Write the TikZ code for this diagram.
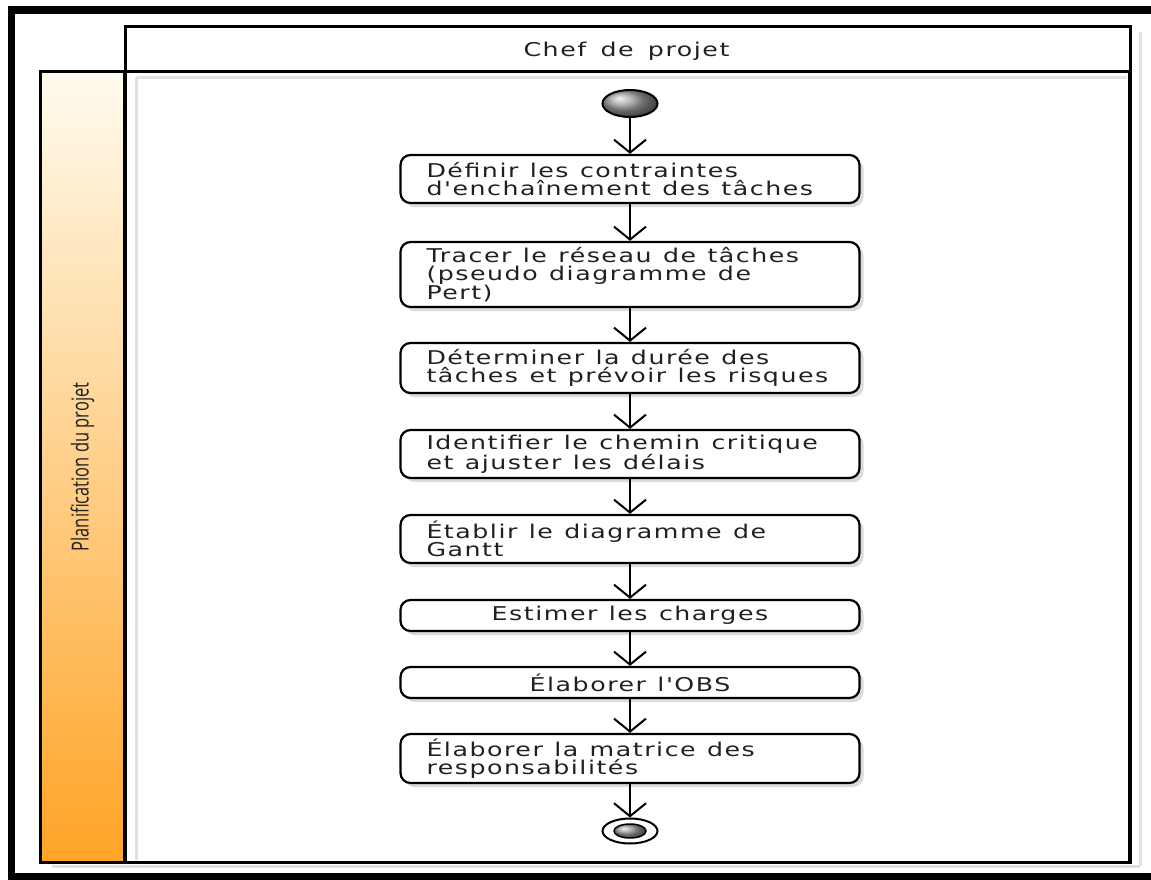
\documentclass[tikz,border=0pt]{standalone}
\usepackage{fontspec}
\usetikzlibrary{arrows.meta,shapes.geometric,shadows}
\newfontfamily\boxfont[FakeStretch=1.33,LetterSpace=8,WordSpace=1.5]{DejaVu Sans}
\newfontfamily\lanefont[FakeStretch=0.7]{Open Sans}
\newcommand\setsp{\spaceskip=0.6em\relax}
\definecolor{txt}{HTML}{202020}
\definecolor{oTop}{RGB}{255,251,238}
\definecolor{oMid}{RGB}{255,218,160}
\definecolor{oBot}{RGB}{255,164,38}
\definecolor{shade}{RGB}{225,225,228}
\tikzset{
  act/.style={draw=black, line width=2.2pt, rounded corners=10pt, fill=white,
    minimum width=459pt, text width=407pt, inner xsep=26pt, inner ysep=0pt,
    align=left, text=txt, font=\boxfont\fontsize{19}{18.5}\selectfont,
    drop shadow={shadow xshift=4pt, shadow yshift=-4pt, fill=black!14, opacity=1}},
  actc/.style={act, align=center},
  flow/.style={draw=black, line width=2pt, -{Straight Barb[length=13pt,width=32pt,line width=2pt]}},
  lane/.style={draw=black, line width=3pt},
  frame/.style={fill=black, draw=none},
  ghost/.style={draw=shade, line width=3pt},
}
\begin{document}
\begin{tikzpicture}[x=1pt,y=-1pt]
\useasboundingbox (0,0) rectangle (1151,880);
\fill[white] (0,0) rectangle (1151,880);
% outer frame
\path[frame] (8,6) rectangle (15,880);
\path[frame] (8,6) rectangle (1151,14);
\path[frame] (8,873) rectangle (1151,880);
% ghost shadow lines
\draw[ghost] (136,78) -- (1127,78);
\draw[ghost] (136,78) -- (136,860);
\draw[ghost] (1140,32) -- (1140,866);
\draw[ghost] (52,866) -- (1140,866);
% orange column
\shade[top color=oTop, middle color=oMid, bottom color=oBot] (40,72) rectangle (125,862);
\draw[lane] (40,72) rectangle (125,862);
% header and lane
\draw[lane] (125,27) rectangle (1130,72);
\draw[lane] (125,72) rectangle (1130,862);
\draw[black, line width=4pt] (125,72) -- (125,862);
\draw[black, line width=4pt] (1130,72) -- (1130,862);
\node[anchor=base, text=txt, font=\boxfont\fontsize{19}{19}\selectfont] (hdr) at (626.5,57) {Chef de projet};
\node[rotate=90, text=txt, font=\lanefont\fontsize{23.5}{23.5}\selectfont] (lbl) at (82.5,467) {Planification du projet};
% nodes
\node[ellipse, draw=black, line width=2pt, minimum width=55pt, minimum height=27pt, inner sep=0pt, ball color=gray!75] (start) at (630,103.5) {};
\node[act, minimum height=48pt] (b1) at (630,179) {\setsp D\'efinir les contraintes\\d'encha\^inement des t\^aches};
\node[act, minimum height=65pt] (b2) at (630,274.5) {\setsp Tracer le r\'eseau de t\^aches\\(pseudo diagramme de\\Pert)};
\node[act, minimum height=50pt] (b3) at (630,368) {\setsp D\'eterminer la dur\'ee des\\t\^aches et pr\'evoir les risques};
\node[act, minimum height=48pt] (b4) at (630,454) {\setsp Identifier le chemin critique\\et ajuster les d\'elais};
\node[act, minimum height=48pt] (b5) at (630,539) {\setsp \'Etablir le diagramme de\\Gantt};
\node[actc, minimum height=31pt] (b6) at (630,615.5) {\setsp Estimer les charges};
\node[actc, minimum height=31pt] (b7) at (630,682.5) {\setsp \'Elaborer l'OBS};
\node[act, minimum height=49pt] (b8) at (630,758.5) {\setsp \'Elaborer la matrice des\\responsabilit\'es};
\node[ellipse, draw=black, line width=2pt, fill=white, minimum width=55pt, minimum height=25pt, inner sep=0pt] (end) at (630,831) {};
\node[ellipse, draw=black, line width=1.5pt, minimum width=32pt, minimum height=14pt, inner sep=0pt, ball color=gray!75] (endin) at (end.center) {};
% flows
\draw[flow] (start) -- (b1);
\draw[flow] (b1) -- (b2);
\draw[flow] (b2) -- (b3);
\draw[flow] (b3) -- (b4);
\draw[flow] (b4) -- (b5);
\draw[flow] (b5) -- (b6);
\draw[flow] (b6) -- (b7);
\draw[flow] (b7) -- (b8);
\draw[flow] (b8) -- (end);
\end{tikzpicture}
\end{document}
